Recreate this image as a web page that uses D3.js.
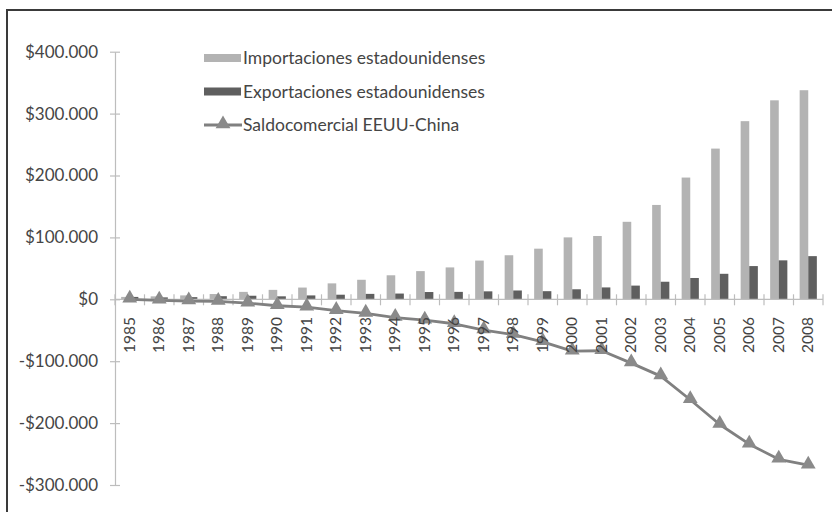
<!DOCTYPE html>
<html>
<head>
<meta charset="utf-8">
<script src="https://cdn.jsdelivr.net/npm/d3@7"></script>
<style>
  html, body { margin: 0; padding: 0; background: #fff; }
  svg { display: block; }
</style>
</head>
<body>
<svg id="chart" width="832" height="512"></svg>
<script>
const years = ["1985","1986","1987","1988","1989","1990","1991","1992","1993","1994","1995","1996","1997","1998","1999","2000","2001","2002","2003","2004","2005","2006","2007","2008"];
const importaciones = [3862, 4771, 6294, 8511, 11990, 15237, 18969, 25728, 31540, 38787, 45543, 51513, 62558, 71169, 81788, 100018, 102278, 125193, 152436, 196682, 243470, 287774, 321443, 337773];
const exportaciones = [3856, 3106, 3497, 5022, 5755, 4806, 6278, 7419, 8763, 9282, 11754, 11993, 12862, 14241, 13111, 16185, 19182, 22128, 28368, 34428, 41192, 53673, 62937, 69733];
const saldo = [-6, -1665, -2796, -3489, -6234, -10431, -12691, -18309, -22777, -29505, -33790, -39520, -49696, -56927, -68677, -83833, -83096, -103065, -124068, -162254, -202278, -234101, -258506, -268040];
const yTicks = [-300000, -200000, -100000, 0, 100000, 200000, 300000, 400000];
const seriesNames = ["Importaciones estadounidenses", "Exportaciones estadounidenses", "Saldocomercial EEUU-China"];

const colImp = "#b3b3b3", colExp = "#5f5f5f", colLine = "#808080", colMarker = "#8a8a8a";
const textCol = "#454545";
const font = "Lato, 'Open Sans', sans-serif";

const svg = d3.select("#chart");

// frame
svg.append("rect").attr("x", 7).attr("y", 10).attr("width", 900).attr("height", 600)
  .attr("fill", "none").attr("stroke", "#3a3a3a").attr("stroke-width", 2);

const x0 = d3.scaleBand().domain(years).range([115, 823]).padding(0);
const y = d3.scaleLinear().domain([-300000, 400000]).range([485, 51.7]);
const bw = x0.bandwidth();
const x1 = d3.scaleBand().domain(["imp", "exp"]).range([bw / 2 - 8.6, bw / 2 + 8.6]).padding(0);

// bars
const g = svg.append("g");
g.selectAll("rect.imp").data(years).join("rect").attr("class", "imp")
  .attr("x", (d) => x0(d) + x1("imp"))
  .attr("width", x1.bandwidth())
  .attr("y", (d, i) => y(importaciones[i]))
  .attr("height", (d, i) => y(0) - y(importaciones[i]))
  .attr("fill", colImp);
g.selectAll("rect.exp").data(years).join("rect").attr("class", "exp")
  .attr("x", (d) => x0(d) + x1("exp"))
  .attr("width", x1.bandwidth())
  .attr("y", (d, i) => y(exportaciones[i]))
  .attr("height", (d, i) => y(0) - y(exportaciones[i]))
  .attr("fill", colExp);

// y axis
const yAxis = d3.axisLeft(y).tickValues(yTicks).tickSize(0).tickPadding(17)
  .tickFormat((d) => (d < 0 ? "-" : "") + "$" + (d === 0 ? "0" : d3.format(",")(Math.abs(d)).replace(/,/g, ".")));
const ya = svg.append("g").attr("transform", "translate(115,0)").call(yAxis);
ya.select(".domain").attr("stroke", "#bdbdbd").attr("stroke-width", 1.2);
ya.selectAll(".tick line").remove();
ya.selectAll(".tick").append("line").attr("x1", -5).attr("x2", 5).attr("stroke", "#bdbdbd").attr("stroke-width", 1.2);
ya.selectAll(".tick text").attr("font-family", font).attr("font-size", 17).attr("fill", textCol);

// x axis line and ticks
const xa = svg.append("g");
xa.append("line").attr("x1", 115).attr("x2", 823).attr("y1", y(0)).attr("y2", y(0))
  .attr("stroke", "#bdbdbd").attr("stroke-width", 1.2);
const boundaries = years.map((d) => x0(d)).concat([x0(years[years.length - 1]) + bw]);
xa.selectAll("line.tk").data(boundaries).join("line").attr("class", "tk")
  .attr("x1", (d) => d).attr("x2", (d) => d)
  .attr("y1", y(0) - 5).attr("y2", y(0) + 6)
  .attr("stroke", "#bdbdbd").attr("stroke-width", 1.2);

// line series
const line = d3.line().x((d, i) => x0(years[i]) + bw / 2).y((d) => y(d));
svg.append("path").datum(saldo).attr("d", line).attr("fill", "none")
  .attr("stroke", colLine).attr("stroke-width", 2.8).attr("stroke-linejoin", "round");
const tri = d3.symbol().type(d3.symbolTriangle).size(95);
svg.selectAll("path.mk").data(saldo).join("path").attr("class", "mk")
  .attr("d", tri)
  .attr("transform", (d, i) => `translate(${x0(years[i]) + bw / 2},${y(d) - 1})`)
  .attr("fill", colMarker);

// x labels
svg.selectAll("text.yr").data(years).join("text").attr("class", "yr")
  .attr("transform", (d) => `translate(${x0(d) + bw / 2 + 5},317) rotate(-90)`)
  .attr("text-anchor", "end")
  .attr("font-family", font).attr("font-size", 15.5).attr("fill", textCol)
  .text((d) => d);

// legend
const lg = svg.append("g").attr("font-family", font).attr("font-size", 17.5).attr("fill", textCol);
const rowsY = [58, 91.5, 125];
lg.append("rect").attr("x", 204).attr("y", rowsY[0] - 4).attr("width", 37).attr("height", 8).attr("fill", colImp);
lg.append("rect").attr("x", 204).attr("y", rowsY[1] - 4).attr("width", 37).attr("height", 8).attr("fill", colExp);
lg.append("line").attr("x1", 204).attr("x2", 242).attr("y1", rowsY[2]).attr("y2", rowsY[2])
  .attr("stroke", colLine).attr("stroke-width", 2.8);
lg.append("path").attr("d", tri).attr("transform", `translate(223,${rowsY[2] - 1})`).attr("fill", colMarker);
lg.selectAll("text").data(seriesNames).join("text")
  .attr("x", 243).attr("y", (d, i) => rowsY[i]).attr("dy", "0.35em").text((d) => d);
</script>
</body>
</html>
